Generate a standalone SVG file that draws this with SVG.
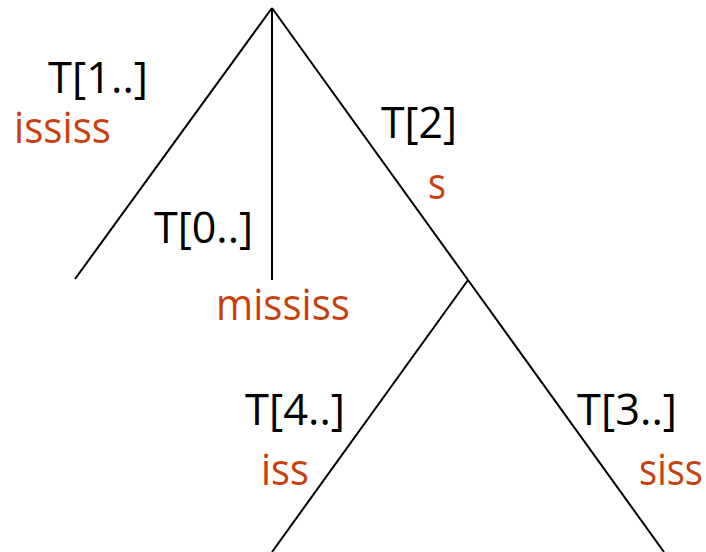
<svg xmlns="http://www.w3.org/2000/svg" width="706" height="552" viewBox="0 0 706 552">
<style>
.edge{stroke:#000;stroke-width:2;fill:none}
.lbl{font-family:"Open Sans","Liberation Sans",sans-serif;font-size:43px;fill:#000}
.suf{font-family:"Open Sans","Liberation Sans",sans-serif;font-size:43px;fill:#C8400E}
</style>
<rect width="706" height="552" fill="#fff"/>
<g id="connectors">
<line class="edge" x1="272" y1="8" x2="75" y2="279"/>
<line class="edge" x1="272" y1="8" x2="272" y2="280"/>
<line class="edge" x1="272" y1="8" x2="468" y2="280"/>
<line class="edge" x1="468" y1="280" x2="272" y2="552"/>
<line class="edge" x1="468" y1="280" x2="664" y2="552"/>
</g>
<g id="edge-T1">
<text class="lbl" x="48" y="93" textLength="100" lengthAdjust="spacingAndGlyphs">T[1..]</text>
<text class="suf" x="14" y="143" textLength="97" lengthAdjust="spacingAndGlyphs">ississ</text>
</g>
<g id="edge-T0">
<text class="lbl" x="154" y="243" textLength="99" lengthAdjust="spacingAndGlyphs">T[0..]</text>
<text class="suf" x="216" y="320" textLength="134" lengthAdjust="spacingAndGlyphs">mississ</text>
</g>
<g id="edge-T2">
<text class="lbl" x="381" y="138" textLength="76" lengthAdjust="spacingAndGlyphs">T[2]</text>
<text class="suf" x="428" y="199" textLength="18" lengthAdjust="spacingAndGlyphs">s</text>
</g>
<g id="edge-T4">
<text class="lbl" x="245" y="425" textLength="100" lengthAdjust="spacingAndGlyphs">T[4..]</text>
<text class="suf" x="261" y="485" textLength="48" lengthAdjust="spacingAndGlyphs">iss</text>
</g>
<g id="edge-T3">
<text class="lbl" x="577" y="425" textLength="100" lengthAdjust="spacingAndGlyphs">T[3..]</text>
<text class="suf" x="639" y="485" textLength="64" lengthAdjust="spacingAndGlyphs">siss</text>
</g>
</svg>
